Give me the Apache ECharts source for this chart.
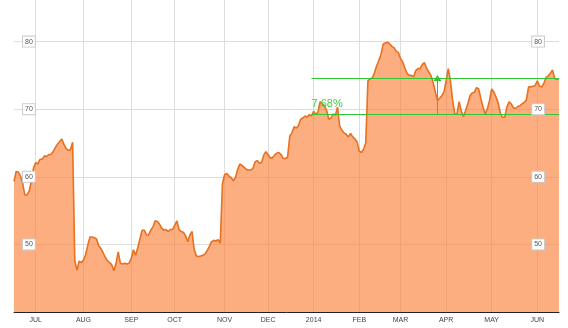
<!DOCTYPE html>
<html><head><meta charset="utf-8">
<script src="https://cdn.jsdelivr.net/npm/echarts@6/dist/echarts.min.js"></script>
<style>html,body{margin:0;padding:0;background:#fff;overflow:hidden}#c{width:568px;height:354px;margin-top:-26px}</style>
</head><body><div id="c"></div>
<script>
// Month tick labels (first trading day of each month is labelled)
const monthLabels = ['', 'JUL', 'AUG', 'SEP', 'OCT', 'NOV', 'DEC', '2014', 'FEB', 'MAR', 'APR', 'MAY', 'JUN'];
// Daily closing values per month (trading days)
const jun13 = [59.3, 60.8, 60.7, 60.1, 59.0, 57.3, 57.3, 57.9, 59.4, 61.3];
const jul13 = [62.1, 61.9, 62.6, 62.6, 63.1, 63.0, 63.3, 63.3, 63.7, 64.3, 64.8, 65.2, 65.6, 64.8, 64.2, 63.9, 64.0, 65.1, 47.5, 46.2, 47.5, 47.3];
const aug13 = [47.7, 48.5, 49.9, 51.1, 51.1, 51.0, 50.8, 49.8, 49.4, 48.8, 48.1, 47.6, 47.3, 47.0, 46.1, 47.2, 48.9, 47.2, 47.1, 47.2, 47.1, 47.2];
const sep13 = [47.9, 49.2, 48.4, 49.5, 50.8, 52.1, 52.1, 51.4, 51.4, 52.1, 52.6, 53.5, 53.4, 53.0, 52.4, 52.1, 52.2, 51.9, 52.2, 52.2];
const oct13 = [52.8, 53.5, 52.2, 51.9, 51.8, 51.3, 50.4, 51.4, 51.9, 49.2, 48.3, 48.2, 48.3, 48.4, 48.6, 49.1, 49.7, 50.4, 50.6, 50.5, 50.7, 50.2, 59.0];
const nov13 = [60.3, 60.5, 60.1, 59.9, 59.4, 59.9, 61.1, 61.9, 61.7, 61.4, 61.1, 61.0, 61.0, 61.2, 62.2, 62.4, 62.0, 62.1, 63.2, 63.7];
const dec13 = [63.3, 62.8, 62.8, 63.2, 63.5, 63.6, 63.3, 62.7, 62.7, 62.9, 66.0, 66.5, 67.4, 67.2, 67.6, 68.5, 68.7, 69.0, 68.8, 69.2, 69.0];
const jan14 = [69.7, 69.2, 69.6, 71.1, 70.8, 70.5, 69.8, 68.5, 68.7, 69.3, 69.1, 70.3, 67.5, 66.9, 66.5, 66.3, 65.9, 66.4, 65.9, 65.6, 65.2];
const feb14 = [63.8, 63.6, 64.1, 65.0, 74.2, 74.5, 74.6, 75.4, 76.4, 77.2, 78.1, 79.6, 79.8, 79.9, 79.7, 79.3, 79.1, 78.6, 78.4];
const mar14 = [77.5, 77.0, 76.1, 75.3, 75.0, 75.0, 74.8, 75.7, 76.0, 76.0, 76.6, 76.9, 76.1, 75.5, 75.0, 74.0, 72.6, 71.3, 71.6, 72.0, 72.5];
const apr14 = [74.2, 76.0, 74.2, 71.3, 69.3, 69.3, 71.1, 69.7, 68.9, 69.8, 70.8, 72.0, 72.4, 72.5, 73.2, 73.0, 71.6, 70.3, 69.3, 70.0, 71.3];
const may14 = [73.0, 72.5, 71.8, 70.9, 69.4, 68.8, 68.8, 70.3, 71.1, 70.8, 70.2, 70.1, 70.4, 70.5, 70.8, 71.0, 71.4, 73.3, 73.3, 73.4, 73.5];
const jun14 = [74.2, 73.4, 73.3, 73.8, 74.7, 74.9, 75.3, 75.8, 74.6, 74.4, 74.6];
// Y axis tick values
const yTicks = [50, 60, 70, 80];
// Annotation: channel levels and percentage text
const channelLow = 69.3, channelHigh = 74.62, channelText = '7.68%', channelTextLevel = 70.75;

const months = [jun13, jul13, aug13, sep13, oct13, nov13, dec13, jan14, feb14, mar14, apr14, may14, jun14];
const categories = [], values = [], firstIdx = new Set();
months.forEach((arr, m) => {
  arr.forEach((v, j) => {
    if (j === 0 && monthLabels[m]) firstIdx.add(categories.length);
    categories.push((monthLabels[m] || 'JUN13') + ' ' + (j + 1));
    values.push(v);
  });
});
const startIdx = categories.indexOf('2014 1') - 1;
const lastIdx = categories.length - 1;
const arrowIdx = categories.indexOf('MAR 18');

const chart = echarts.init(document.getElementById('c'), null, {renderer: 'canvas'});
const yLabel = {
  inside: true, fontSize: 7, color: '#555', fontFamily: 'Arial, Liberation Sans, sans-serif',
  backgroundColor: '#fff', borderColor: '#ccc', borderWidth: 1, padding: [2, 2, 1, 2],
  showMinLabel: false, showMaxLabel: false,
  formatter: v => yTicks.includes(v) ? String(v) : ''
};
const green = '#33c633';
const baseY = {type: 'value', min: 40, max: 90, interval: 10, axisLine: {show: false}, axisTick: {show: false}};
chart.setOption({
  animation: false,
  grid: {left: 14, right: 9, top: 0, bottom: 16, containLabel: false},
  xAxis: {
    type: 'category', data: categories, boundaryGap: false,
    axisLine: {lineStyle: {color: '#222', width: 1}},
    axisTick: {show: false},
    axisLabel: {
      interval: (i) => firstIdx.has(i), fontSize: 7, color: '#444', margin: 5,
      fontFamily: 'Arial, Liberation Sans, sans-serif',
      formatter: v => v.split(' ')[0]
    },
    splitLine: {show: true, interval: (i) => firstIdx.has(i), lineStyle: {color: '#ddd', width: 1}}
  },
  yAxis: [
    Object.assign({}, baseY, {position: 'left', z: 0, axisLabel: {show: false},
      splitLine: {lineStyle: {color: '#ddd', width: 1}}}),
    Object.assign({}, baseY, {position: 'left', z: 20, splitLine: {show: false},
      axisLabel: Object.assign({}, yLabel, {margin: 9})}),
    Object.assign({}, baseY, {position: 'right', z: 20, splitLine: {show: false},
      axisLabel: Object.assign({}, yLabel, {margin: 15})})
  ],
  series: [{
    type: 'line', data: values, yAxisIndex: 0, symbol: 'none', smooth: false,
    lineStyle: {color: '#e8701e', width: 1.6},
    areaStyle: {color: 'rgba(250,130,60,0.65)', opacity: 1},
    z: 3,
    markPoint: {
      silent: true, symbol: 'circle', symbolSize: 0,
      label: {show: true, position: 'right', distance: 0, color: '#44cc44', fontSize: 11,
              fontFamily: 'Arial, Liberation Sans, sans-serif', formatter: channelText},
      data: [{coord: [startIdx, channelTextLevel]}]
    }
  }, {
    type: 'line', data: [], yAxisIndex: 0, symbol: 'none', z: 10,
    markLine: {
      silent: true, symbol: ['none', 'none'],
      lineStyle: {color: green, width: 1, type: 'solid', opacity: 1},
      label: {show: false},
      data: [
        [{coord: [startIdx, channelHigh]}, {coord: [lastIdx, channelHigh]}],
        [{coord: [startIdx, channelLow]}, {coord: [lastIdx, channelLow]}],
        [{coord: [arrowIdx, channelLow], symbol: 'none'},
         {coord: [arrowIdx, channelHigh], symbol: 'triangle', symbolSize: [8, 6],
          itemStyle: {color: '#b8f0a8', borderColor: green, borderWidth: 1}}]
      ]
    }
  }]
});
</script></body></html>
